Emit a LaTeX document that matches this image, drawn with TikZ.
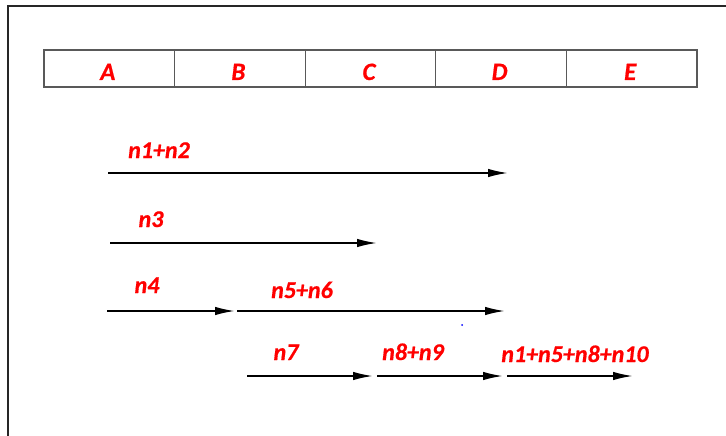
\documentclass[tikz,border=0pt]{standalone}
\usepackage{fontspec}
\newfontfamily\lblfont{Carlito}[BoldItalicFeatures={FakeBold=0.6}]
\usetikzlibrary{arrows.meta}
\definecolor{lblred}{HTML}{FF0000}
\tikzset{
	lbl/.style={font=\lblfont\bfseries\itshape\fontsize{24}{24}\selectfont, text=lblred, anchor=base, inner sep=0pt},
	stage/.style={lbl, font=\lblfont\bfseries\itshape\fontsize{25}{25}\selectfont},
	arr/.style={line width=1.8pt, -{Latex[length=20pt,width=8.5pt]}},
	cell/.style={draw=black!65, line width=1.2pt, minimum width=130.6pt, minimum height=37pt, inner sep=0pt}
}

\begin{document}
\begin{tikzpicture}[x=1pt,y=-1pt]
	\useasboundingbox (0,0) rectangle (726,436);
	\draw[line width=2.6pt, black!85] (8,450) -- (8,6) -- (740,6);
	% stages
	\foreach \t [count=\i] in {A,B,C,D,E}{
		\node[cell] (c\t) at ({44+130.6*(\i-0.5)},68.5) {};
		\node[stage] (t\t) at ([xshift=-1.5pt,yshift=-11.5pt]c\t.center) {\t};
	}
	% labels
	\node[lbl] (n12) at (159,158) {n1+n2};
	\node[lbl] (n3) at (151,227) {n3};
	\node[lbl] (n4) at (147,293) {n4};
	\node[lbl] (n56) at (302,298) {n5+n6};
	\node[lbl] (n7) at (286,360) {n7};
	\node[lbl] (n89) at (413,360) {n8+n9};
	\node[lbl] (n10) at (575,362) {n1+n5+n8+n10};
	% arrows
	\coordinate (a0) at (108,173);
	\coordinate (a1) at (508,173);
	\coordinate (b0) at (110,243);
	\coordinate (b1) at (377,243);
	\coordinate (c0) at (107,311);
	\coordinate (c1) at (235,311);
	\coordinate (c2) at (237,311);
	\coordinate (c3) at (505,311);
	\coordinate (d0) at (247,376);
	\coordinate (d1) at (373,376);
	\coordinate (d2) at (377,376);
	\coordinate (d3) at (503,376);
	\coordinate (d4) at (507,376);
	\coordinate (d5) at (633,376);
	\draw[arr] (a0)--(a1);
	\draw[arr] (b0)--(b1);
	\draw[arr] (c0)--(c1);
	\draw[arr] (c2)--(c3);
	\draw[arr] (d0)--(d1);
	\draw[arr] (d2)--(d3);
	\draw[arr] (d4)--(d5);
	\fill[blue] (462,325) circle (1pt);
\end{tikzpicture}
\end{document}
